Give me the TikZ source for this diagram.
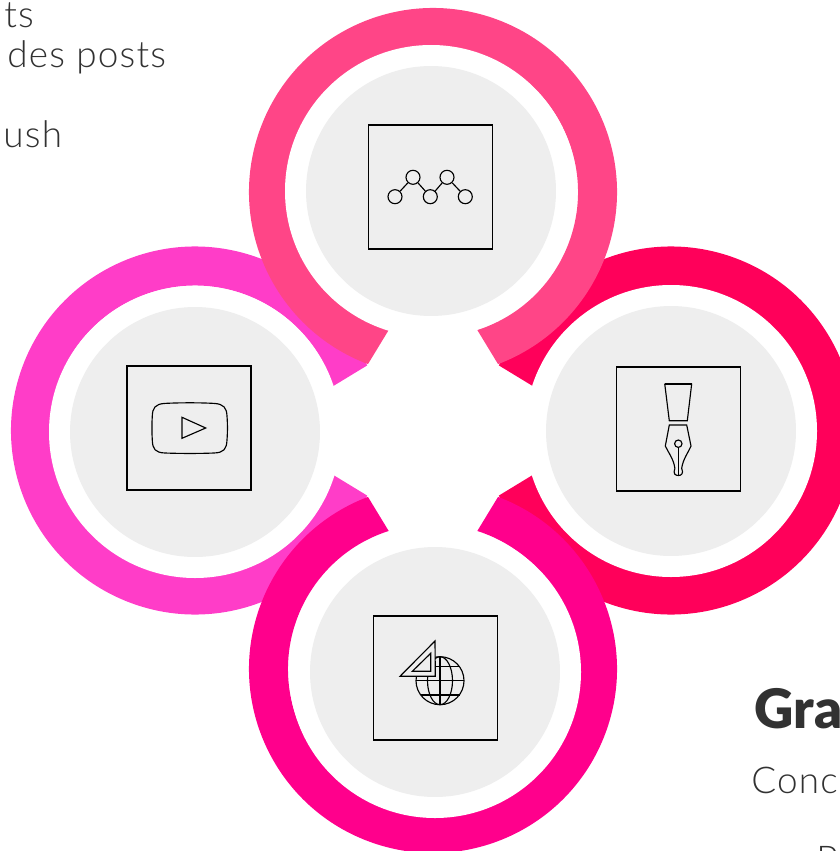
\documentclass[tikz,border=0pt]{standalone}
\usepackage{fontspec}
\setmainfont[LetterSpace=3.3]{Lato Light}
\newfontfamily\heavyfont[LetterSpace=1]{Lato Black}
\definecolor{ringleft}{RGB}{255,61,200}
\definecolor{ringright}{RGB}{255,0,90}
\definecolor{ringtop}{RGB}{255,69,135}
\definecolor{ringbottom}{RGB}{255,0,140}
\definecolor{disk}{RGB}{238,238,238}
\definecolor{ink}{RGB}{50,50,50}
\tikzset{
  diskfill/.style={circle,fill=disk,minimum size=5cm,inner sep=0pt},
  iconbox/.style={draw=black,line width=0.6pt,minimum size=2.48cm,inner sep=0pt},
  icon/.style={draw=black,line width=0.65pt},
  dotnode/.style={circle,draw=black,line width=0.65pt,minimum size=0.28cm,inner sep=0pt},
  bodytext/.style={anchor=base west,inner sep=0pt,text=ink,font=\fontsize{21}{25}\selectfont},
  subtext/.style={anchor=base west,inner sep=0pt,text=ink,font=\fontsize{21}{25}\selectfont},
  headtext/.style={anchor=base west,inner sep=0pt,text=ink,font=\heavyfont\fontsize{31}{37}\selectfont}
}
\begin{document}
\begin{tikzpicture}[x=0.02cm,y=-0.02cm]
\useasboundingbox (0,0) rectangle (839,851);
% rings, side ones first
\foreach \cx/\cy/\gx/\gy/\ax/\col in {195/430.5/195/432/0/ringleft,671/430.5/671/431/180/ringright,433/192/431/191/90/ringtop,433/669/435/672/-90/ringbottom}{
  \fill[\col] ([shift={(\cx,\cy)}]\ax+20.7:184) arc ({\ax+20.7}:{\ax+339.3}:184)
    -- ([shift={(\cx,\cy)}]\ax+342.2:145) arc ({\ax+342.2}:{\ax+17.8}:145) -- cycle;
  \fill[white] (\gx,\gy) circle (146);
}
\node[diskfill] (diskleft) at (195,432) {};
\node[diskfill] (diskright) at (671,431) {};
\node[diskfill] (disktop) at (431,191) {};
\node[diskfill] (diskbottom) at (435,672) {};
\node[iconbox] (boxtop) at (430.3,187) {};
\node[iconbox] (boxleft) at (189,428) {};
\node[iconbox] (boxright) at (678.5,429) {};
\node[iconbox] (boxbottom) at (435.7,678) {};
% top icon
\node[dotnode] (dota) at (395,196.7) {};
\node[dotnode] (dotb) at (413,177.3) {};
\node[dotnode] (dotc) at (430.3,196.7) {};
\node[dotnode] (dotd) at (447,177.3) {};
\node[dotnode] (dote) at (465.3,196.7) {};
\draw[icon] (dota) -- (dotb);
\draw[icon] (dotb) -- (dotc);
\draw[icon] (dotc) -- (dotd);
\draw[icon] (dotd) -- (dote);
% left icon
\draw[icon] (165,403.4) .. controls (180,402.6) and (200,402.6) .. (214,403.4)
  .. controls (224,404) and (226.6,408) .. (227,416)
  .. controls (227.6,424) and (227.6,432) .. (227,440)
  .. controls (226.6,449) and (224,452.6) .. (214,453)
  .. controls (200,453.6) and (180,453.6) .. (165,453)
  .. controls (155,452.6) and (152.6,449) .. (152.3,440)
  .. controls (151.8,432) and (151.8,424) .. (152.3,416)
  .. controls (152.6,408) and (155,404) .. (165,403.4) -- cycle;
\draw[icon] (182,417.3) -- (182,438.3) -- (205.7,428) -- cycle;
% right icon
\draw[icon] (664.7,383.7) -- (669.3,420.7) -- (687.3,420.7) -- (691.7,383.7);
\draw[black,line width=1pt] (664.7,383.7) -- (691.7,383.7);
\draw[icon] (669.3,425) -- (686.7,425) -- (691,446)
  .. controls (688,453) and (683,459) .. (681.7,468.3)
  .. controls (684,474) and (681,475.5) .. (678.3,475.5)
  .. controls (675.6,475.5) and (672.6,474) .. (674.9,468.3)
  .. controls (673.6,459) and (668.6,453) .. (665.3,446) -- cycle;
\draw[icon] (678.3,443.7) circle (3.7);
\draw[icon] (678.3,447.4) -- (678.3,475.5);
% bottom icon
\draw[icon] (440,680.7) circle (24);
\draw[icon] (440,680.7) ellipse (12.5 and 24);
\draw[icon] (440,656.7) -- (440,704.7);
\draw[icon] (420.5,666.5) -- (459.5,666.5);
\draw[icon] (416,680.7) -- (464,680.7);
\draw[icon] (420.5,695) -- (459.5,695);
\draw[icon,fill=disk] (435,641) -- (400,676.3) -- (435.3,676.3) -- cycle;
\draw[icon] (430.7,653.3) -- (412.3,671.3) -- (430.7,671.3) -- cycle;
% clipped texts
\node[bodytext] (textts) at (4,28) {ts};
\node[bodytext] (textposts) at (7,68) {des posts};
\node[bodytext] (textush) at (3,148) {ush};
\node[headtext] (texthead) at (754,728) {Gra};
\node[subtext] (textconc) at (751,793) {Conc};
\node[subtext] (textlast) at (816,872) {P};
\end{tikzpicture}
\end{document}
